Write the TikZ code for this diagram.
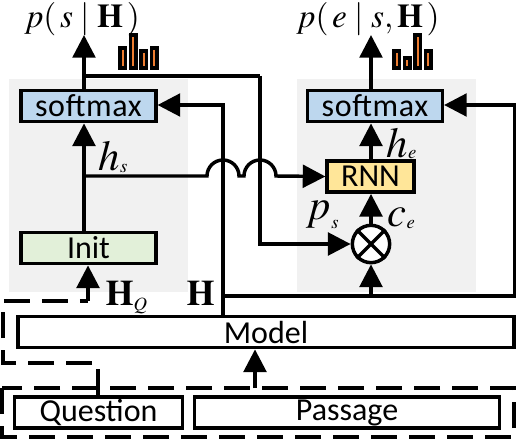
\documentclass[tikz,border=0pt]{standalone}
\usepackage{fontspec}
\usepackage{amsmath}
\usepackage{mathptmx}
\setmainfont{Carlito}
\usetikzlibrary{arrows.meta}
\definecolor{softblue}{HTML}{BDD7EE}
\definecolor{rnnyellow}{HTML}{FFE699}
\definecolor{initgreen}{HTML}{E2F0D9}
\definecolor{panelgray}{HTML}{F1F1F1}
\definecolor{barorange}{HTML}{ED7D31}
\newcommand{\sublab}[3]{$#1$\raisebox{#3}{\fontsize{14}{14}\selectfont$#2$}}

\begin{document}
\begin{tikzpicture}[x=0.75pt, y=-0.75pt,
			>={Triangle[length=17pt,width=17pt]},   %arrow tips
			line width=2.6pt,
			panel/.style={fill=panelgray, draw=none},
			block/.style={draw=black, line width=2.6pt, minimum height=23.5pt, inner sep=0pt, font=\fontsize{24}{24}\selectfont},
			dashbox/.style={draw=black, line width=2.6pt, dash pattern=on 19.5pt off 9pt},
			histbar/.style={draw=black, line width=2.6pt, fill=barorange},
			lbl/.style={inner sep=0pt, font=\fontsize{#1}{#1}\selectfont},
			lbl/.default=24]
			\useasboundingbox (0,0) rectangle (516,438);
			% gray panels
			\fill[panel] (9,79) rectangle (188,292);
			\fill[panel] (297,79) rectangle (476,292);
			% blocks
			\node[block, fill=softblue, minimum width=101pt] (smaxs) at (88.5,106) {\addfontfeature{LetterSpace=2}softmax};
			\node[block, fill=softblue, minimum width=101pt] (smaxe) at (375,106) {\addfontfeature{LetterSpace=2}softmax};
			\node[block, fill=rnnyellow, minimum width=65pt] (rnn) at (370.5,176.5) {RNN};
			\node[block, fill=initgreen, minimum width=101pt] (init) at (88.5,248) {Init};
			\node[draw, circle, fill=white, line width=2.6pt, minimum size=28pt, inner sep=0pt] (mult) at (371,244) {};
			\draw[line width=2.6pt] (mult.north west) -- (mult.south east);
			\draw[line width=2.6pt] (mult.north east) -- (mult.south west);
			\node[block, minimum width=372pt] (model) at (266,332) {Model};
			\node[block, minimum width=126pt] (question) at (98.5,412.5) {Question};
			\node[block, minimum width=229pt] (passage) at (347,412.5) {Passage};
			% helpers
			\coordinate (ps) at (84,35);
			\coordinate (pe) at (371,35);
			\coordinate (hsjoin) at (84,176);
			\coordinate (hopa) at (207,176);
			\coordinate (hopb) at (244,176);
			\coordinate (topjoin) at (84,76);
			\coordinate (copyh) at (223,105);
			\coordinate (hright) at (515,105);
			\coordinate (hbus) at (223,296);
			\coordinate (turn) at (260,76);
			\coordinate (hqstart) at (88,301);
			\coordinate (qup) at (98,363);
			\coordinate (pup) at (255,388);
			% connectors
			\draw[->] (smaxs.north -| ps) -- (ps);
			\draw[->] (smaxe.north -| pe) -- (pe);
			\draw[->] (init.north -| ps) -- (smaxs.south -| ps);
			\draw[->] (rnn.north -| pe) -- (smaxe.south -| pe);
			\draw[->] (mult.north) -- (rnn.south -| pe);
			\draw[->] (hbus -| pe) -- (mult.south);
			\draw[->] (model.north -| copyh) -- (copyh) -- (smaxs.east |- copyh);
			\draw[->] (hbus) -- (hbus -| hright) -- (hright) -- (smaxe.east |- hright);
			\draw (topjoin) -- (turn);
			\draw[->] (turn) -- (turn |- mult) -- (mult.west);
			\draw[->] (hsjoin) -- (hopa) arc[start angle=180, end angle=360, radius=16]
				-- (hopb) arc[start angle=180, end angle=360, radius=16] -- (rnn.west);
			\draw[->] (hqstart) -- (init.south -| hqstart);
			\draw[->] (pup) -- (model.south -| pup);
			% dashed parts
			\draw[dashbox] (question.north -| qup) -- (qup) -- (3,363) -- (3,301) -- (hqstart);
			\draw[dashbox] (2,388) rectangle (514,437);
			% histograms
			\foreach \x/\t in {120/48, 130.5/35, 141/51, 151.5/48}
				\draw[histbar] (\x,68) rectangle (\x+5.5,\t);
			\foreach \x/\t in {394/51, 404.5/58, 415/35, 425.5/51}
				\draw[histbar] (\x,68) rectangle (\x+5.5,\t);
			% labels
			\node[lbl=25, anchor=base] (ptitles) at (82,28) {$p(\,s\;|\;\mathbf{H}\,)$};
			\node[lbl=25, anchor=base] (ptitlee) at (368,28) {$p(\,e\;|\;s,\mathbf{H}\,)$};
			\node[lbl=32, anchor=base west] (hs) at (97,171) {\sublab{h}{s}{-1pt}};
			\node[lbl=32, anchor=base west] (he) at (385,157) {\sublab{h}{e}{-1pt}};
			\node[lbl=32, anchor=base west] (plab) at (305,219) {\sublab{p}{s}{-7pt}};
			\node[lbl=32, anchor=base west] (clab) at (386,226) {\sublab{c}{e}{-1.5pt}};
			\node[lbl=27, anchor=base west] (hq) at (104,305) {\sublab{\mathbf{H}}{Q}{-4pt}};
			\node[lbl=27, anchor=base west] (hh) at (185,305) {$\mathbf{H}$};
		\end{tikzpicture}
\end{document}
